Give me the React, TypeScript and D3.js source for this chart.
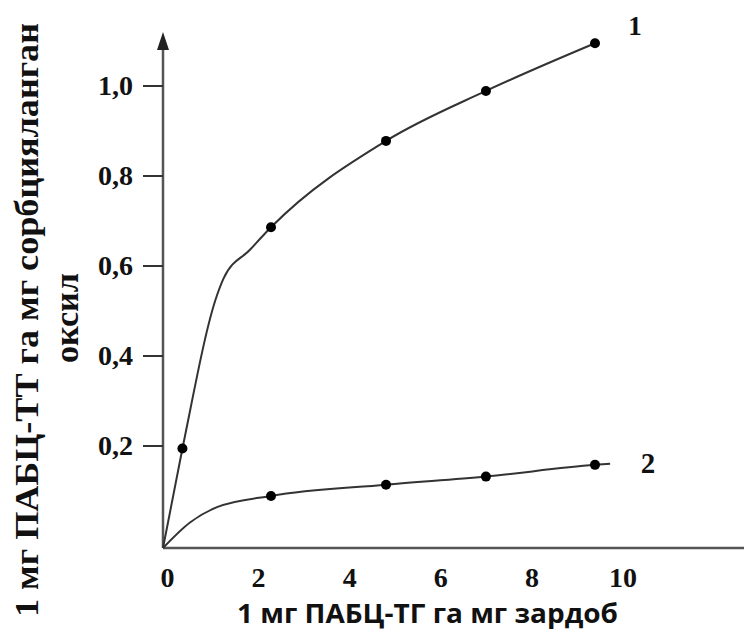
import React from 'react';
import * as d3 from 'd3';

const xTickVals = [0, 2, 4, 6, 8, 10];
const xTickLabels = ['0', '2', '4', '6', '8', '10'];
const yTickVals = [0.2, 0.4, 0.6, 0.8, 1.0];
const yTickLabels = ['0,2', '0,4', '0,6', '0,8', '1,0'];

// Series 1 markers
const s1X = [0.36, 2, 4.13, 5.98, 8];
const s1Y = [0.195, 0.686, 0.878, 0.989, 1.095];
// Series 1 drawn curve (includes the knee)
const s1LineX = [0, 0.36, 1.0, 1.12, 1.61, 2, 4.13, 5.98, 8];
const s1LineY = [0, 0.195, 0.535, 0.572, 0.636, 0.686, 0.878, 0.989, 1.095];

// Series 2 markers
const s2X = [2, 4.13, 5.98, 8];
const s2Y = [0.102, 0.124, 0.14, 0.163];
// Series 2 drawn curve
const s2LineX = [0, 0.5, 1, 2, 4.13, 5.98, 8, 8.28];
const s2LineY = [0, 0.05, 0.08, 0.102, 0.124, 0.14, 0.163, 0.165];

const seriesNames = ['1', '2'];
const xTitle = '1 мг ПАБЦ-ТГ га мг зардоб';
const yTitle1 = '1 мг ПАБЦ-ТТ га мг сорбцияланган';
const yTitle2 = 'оксил';

export default function App() {
  const W = 744;
  const H = 632;
  const x = d3.scaleLinear().domain([0, 8]).range([163, 595]);
  const xLab = d3.scaleLinear().domain([0, 10]).range([167.5, 623]);
  const y = d3.scaleLinear().domain([0, 0.2, 1.0]).range([548, 446, 86]);

  const line = d3
    .line<[number, number]>()
    .x((d) => x(d[0]))
    .y((d) => y(d[1]))
    .curve(d3.curveMonotoneX);

  const p1 = line(s1LineX.map((v, i) => [v, s1LineY[i]] as [number, number])) || '';
  const p2 = line(s2LineX.map((v, i) => [v, s2LineY[i]] as [number, number])) || '';

  const x0 = x(0);
  const y0 = y(0);
  const serifStyle = { fontFamily: '"Liberation Serif", "DejaVu Serif", serif', fontWeight: 700 } as React.CSSProperties;
  const sansStyle = { fontFamily: '"Open Sans", "DejaVu Sans", sans-serif', fontWeight: 700 } as React.CSSProperties;
  const axisColor = '#555';

  return (
    <svg
      width={W}
      height={H}
      viewBox={`0 0 ${W} ${H}`}
      style={{ position: 'absolute', left: 0, top: 0, display: 'block', background: '#fff' }}
    >
      <rect x={0} y={0} width={W} height={H} fill="#fff" />
      {/* axes */}
      <line x1={x0} y1={y0} x2={x0} y2={46} stroke={axisColor} strokeWidth={2.5} />
      <polygon points={`${x0},32 ${x0 - 6},50 ${x0 + 6},50`} fill="#222" />
      <line x1={x0} y1={y0} x2={W} y2={y0} stroke={axisColor} strokeWidth={2.5} />

      {/* y ticks */}
      {yTickVals.map((v, i) => (
        <g key={'yt' + i}>
          <line x1={x0 - 20} x2={x0} y1={y(v)} y2={y(v)} stroke="#333" strokeWidth={2} />
          <text x={133} y={y(v) + 9} textAnchor="end" fontSize={28} fill="#111" style={serifStyle}>
            {yTickLabels[i]}
          </text>
        </g>
      ))}

      {/* x tick labels */}
      {xTickVals.map((v, i) => (
        <text key={'xt' + i} x={xLab(v)} y={587} textAnchor="middle" fontSize={28} fill="#111" style={serifStyle}>
          {xTickLabels[i]}
        </text>
      ))}

      {/* curves */}
      <path d={p1} fill="none" stroke="#333" strokeWidth={2} />
      <path d={p2} fill="none" stroke="#333" strokeWidth={2} />

      {s1X.map((v, i) => (
        <circle key={'a' + i} cx={x(v)} cy={y(s1Y[i])} r={5} fill="#000" />
      ))}
      {s2X.map((v, i) => (
        <circle key={'b' + i} cx={x(v)} cy={y(s2Y[i])} r={5} fill="#000" />
      ))}

      {/* series labels */}
      <text x={635} y={35} textAnchor="middle" fontSize={27} fill="#111" style={serifStyle}>
        {seriesNames[0]}
      </text>
      <text x={648} y={473} textAnchor="middle" fontSize={29} fill="#111" style={serifStyle}>
        {seriesNames[1]}
      </text>

      {/* axis titles */}
      <text
        x={427.5}
        y={623}
        textAnchor="middle"
        fontSize={26}
        fill="#111"
        style={sansStyle}
        textLength={381}
        lengthAdjust="spacingAndGlyphs"
      >
        {xTitle}
      </text>
      <text
        transform="translate(38,320) rotate(-90)"
        textAnchor="middle"
        fontSize={34}
        fill="#111"
        style={serifStyle}
        textLength={594}
        lengthAdjust="spacingAndGlyphs"
      >
        {yTitle1}
      </text>
      <text
        transform="translate(78,318) rotate(-90)"
        textAnchor="middle"
        fontSize={34}
        fill="#111"
        style={serifStyle}
        textLength={90}
        lengthAdjust="spacingAndGlyphs"
      >
        {yTitle2}
      </text>
    </svg>
  );
}
